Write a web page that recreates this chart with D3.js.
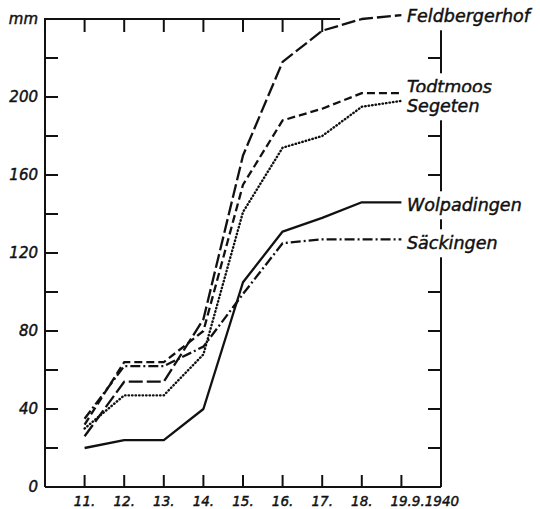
<!DOCTYPE html>
<html><head><meta charset="utf-8">
<script src="https://cdn.jsdelivr.net/npm/d3@7"></script>
<style>
body{margin:0;background:#fff;}
text{font-family:"DejaVu Sans",sans-serif;font-style:italic;fill:#111;stroke:#111;stroke-width:0.45px;}
</style></head>
<body><svg id="c" width="540" height="509"></svg>
<script>
const days = [11,12,13,14,15,16,17,18,19];
const xTickLabels = ["11.","12.","13.","14.","15.","16.","17.","18.","19.9.1940"];
const yTickValues = [0,40,80,120,160,200];
const yUnit = "mm";
const feldbergerhof = [26,54,54,86,170,218,234,240,242];
const todtmoos      = [32,64,64,80,155,188,194,202,202];
const segeten       = [30,47,47,68,141,174,180,195,198];
const wolpadingen   = [20,24,24,40,105,131,138,146,146];
const saeckingen    = [35,62,62,72,99,125,127,127,127];
const seriesNames = ["Feldbergerhof","Todtmoos","Segeten","Wolpadingen","Säckingen"];

const series = [
  {name:seriesNames[0], vals:feldbergerhof, dash:"14,4", ly:16},
  {name:seriesNames[1], vals:todtmoos, dash:"8,4", ly:87},
  {name:seriesNames[2], vals:segeten, dash:"0.5,3", ly:106},
  {name:seriesNames[3], vals:wolpadingen, dash:null, ly:205},
  {name:seriesNames[4], vals:saeckingen, dash:"10,3,2,3", ly:243}
];

const svg = d3.select("#c");
const x = d3.scaleLinear().domain([10,20]).range([45,441]);
const y = d3.scaleLinear().domain([0,240]).range([487,19]);

const ax = svg.append("g").attr("stroke","#111").attr("stroke-width",2).attr("fill","none");
ax.append("line").attr("x1",x(10)).attr("x2",x(10)).attr("y1",y(240)-1).attr("y2",y(0));
d3.range(20,240,20).forEach(v=>ax.append("line").attr("x1",x(10)).attr("x2",x(10)+13).attr("y1",y(v)).attr("y2",y(v)));
ax.append("line").attr("x1",x(10)).attr("x2",x(20)).attr("y1",y(0)).attr("y2",y(0));
days.forEach(d=>ax.append("line").attr("x1",x(d)).attr("x2",x(d)).attr("y1",y(0)).attr("y2",y(0)-12));
ax.append("line").attr("x1",x(10)).attr("x2",x(17.45)).attr("y1",y(240)).attr("y2",y(240));
d3.range(11,18).forEach(d=>ax.append("line").attr("x1",x(d)).attr("x2",x(d)).attr("y1",y(240)).attr("y2",y(240)+13));
const rAx = svg.append("g").attr("stroke","#111").attr("stroke-width",2);
rAx.append("line").attr("x1",x(20)).attr("x2",x(20)).attr("y1",30).attr("y2",y(0));
d3.range(20,240,20).forEach(v=>rAx.append("line").attr("x1",x(20)-13).attr("x2",x(20)).attr("y1",y(v)).attr("y2",y(v)));

svg.append("g").selectAll("text").data(yTickValues).join("text")
  .attr("x",38).attr("y",d=>y(d)).attr("dy","0.36em").attr("text-anchor","end")
  .attr("font-size",15).text(d=>d);
svg.append("text").attr("x",38).attr("y",y(240)).attr("dy","0.3em").attr("text-anchor","end").attr("font-size",15).text(yUnit);
svg.append("g").selectAll("text").data(days).join("text")
  .attr("x",(d,i)=> i===days.length-1 ? x(d)-11 : x(d))
  .attr("y",y(0)+19).attr("text-anchor",(d,i)=> i===days.length-1 ? "start":"middle")
  .attr("font-size",13.5).text((d,i)=>xTickLabels[i]);

const line = d3.line().x((d,i)=>x(days[i])).y(d=>y(d));
series.forEach(s=>{
  const p = svg.append("path").datum(s.vals).attr("d",line)
    .attr("fill","none").attr("stroke","#111").attr("stroke-width",2.3)
    .attr("stroke-linejoin","round");
  if(s.dash) p.attr("stroke-dasharray",s.dash);
  if(s.name==="Segeten") p.attr("stroke-linecap","round").attr("stroke-width",2.4);
});

series.forEach(s=>{
  const g = svg.append("g");
  const r = g.append("rect").attr("fill","#fff");
  const t = g.append("text").attr("x",407).attr("y",s.ly).attr("dy","0.36em")
    .attr("font-size",17.5).text(s.name);
  const b = t.node().getBBox();
  r.attr("x",b.x-2).attr("y",b.y-4).attr("width",b.width+4).attr("height",b.height+8).attr("stroke","none");
});
</script></body></html>
